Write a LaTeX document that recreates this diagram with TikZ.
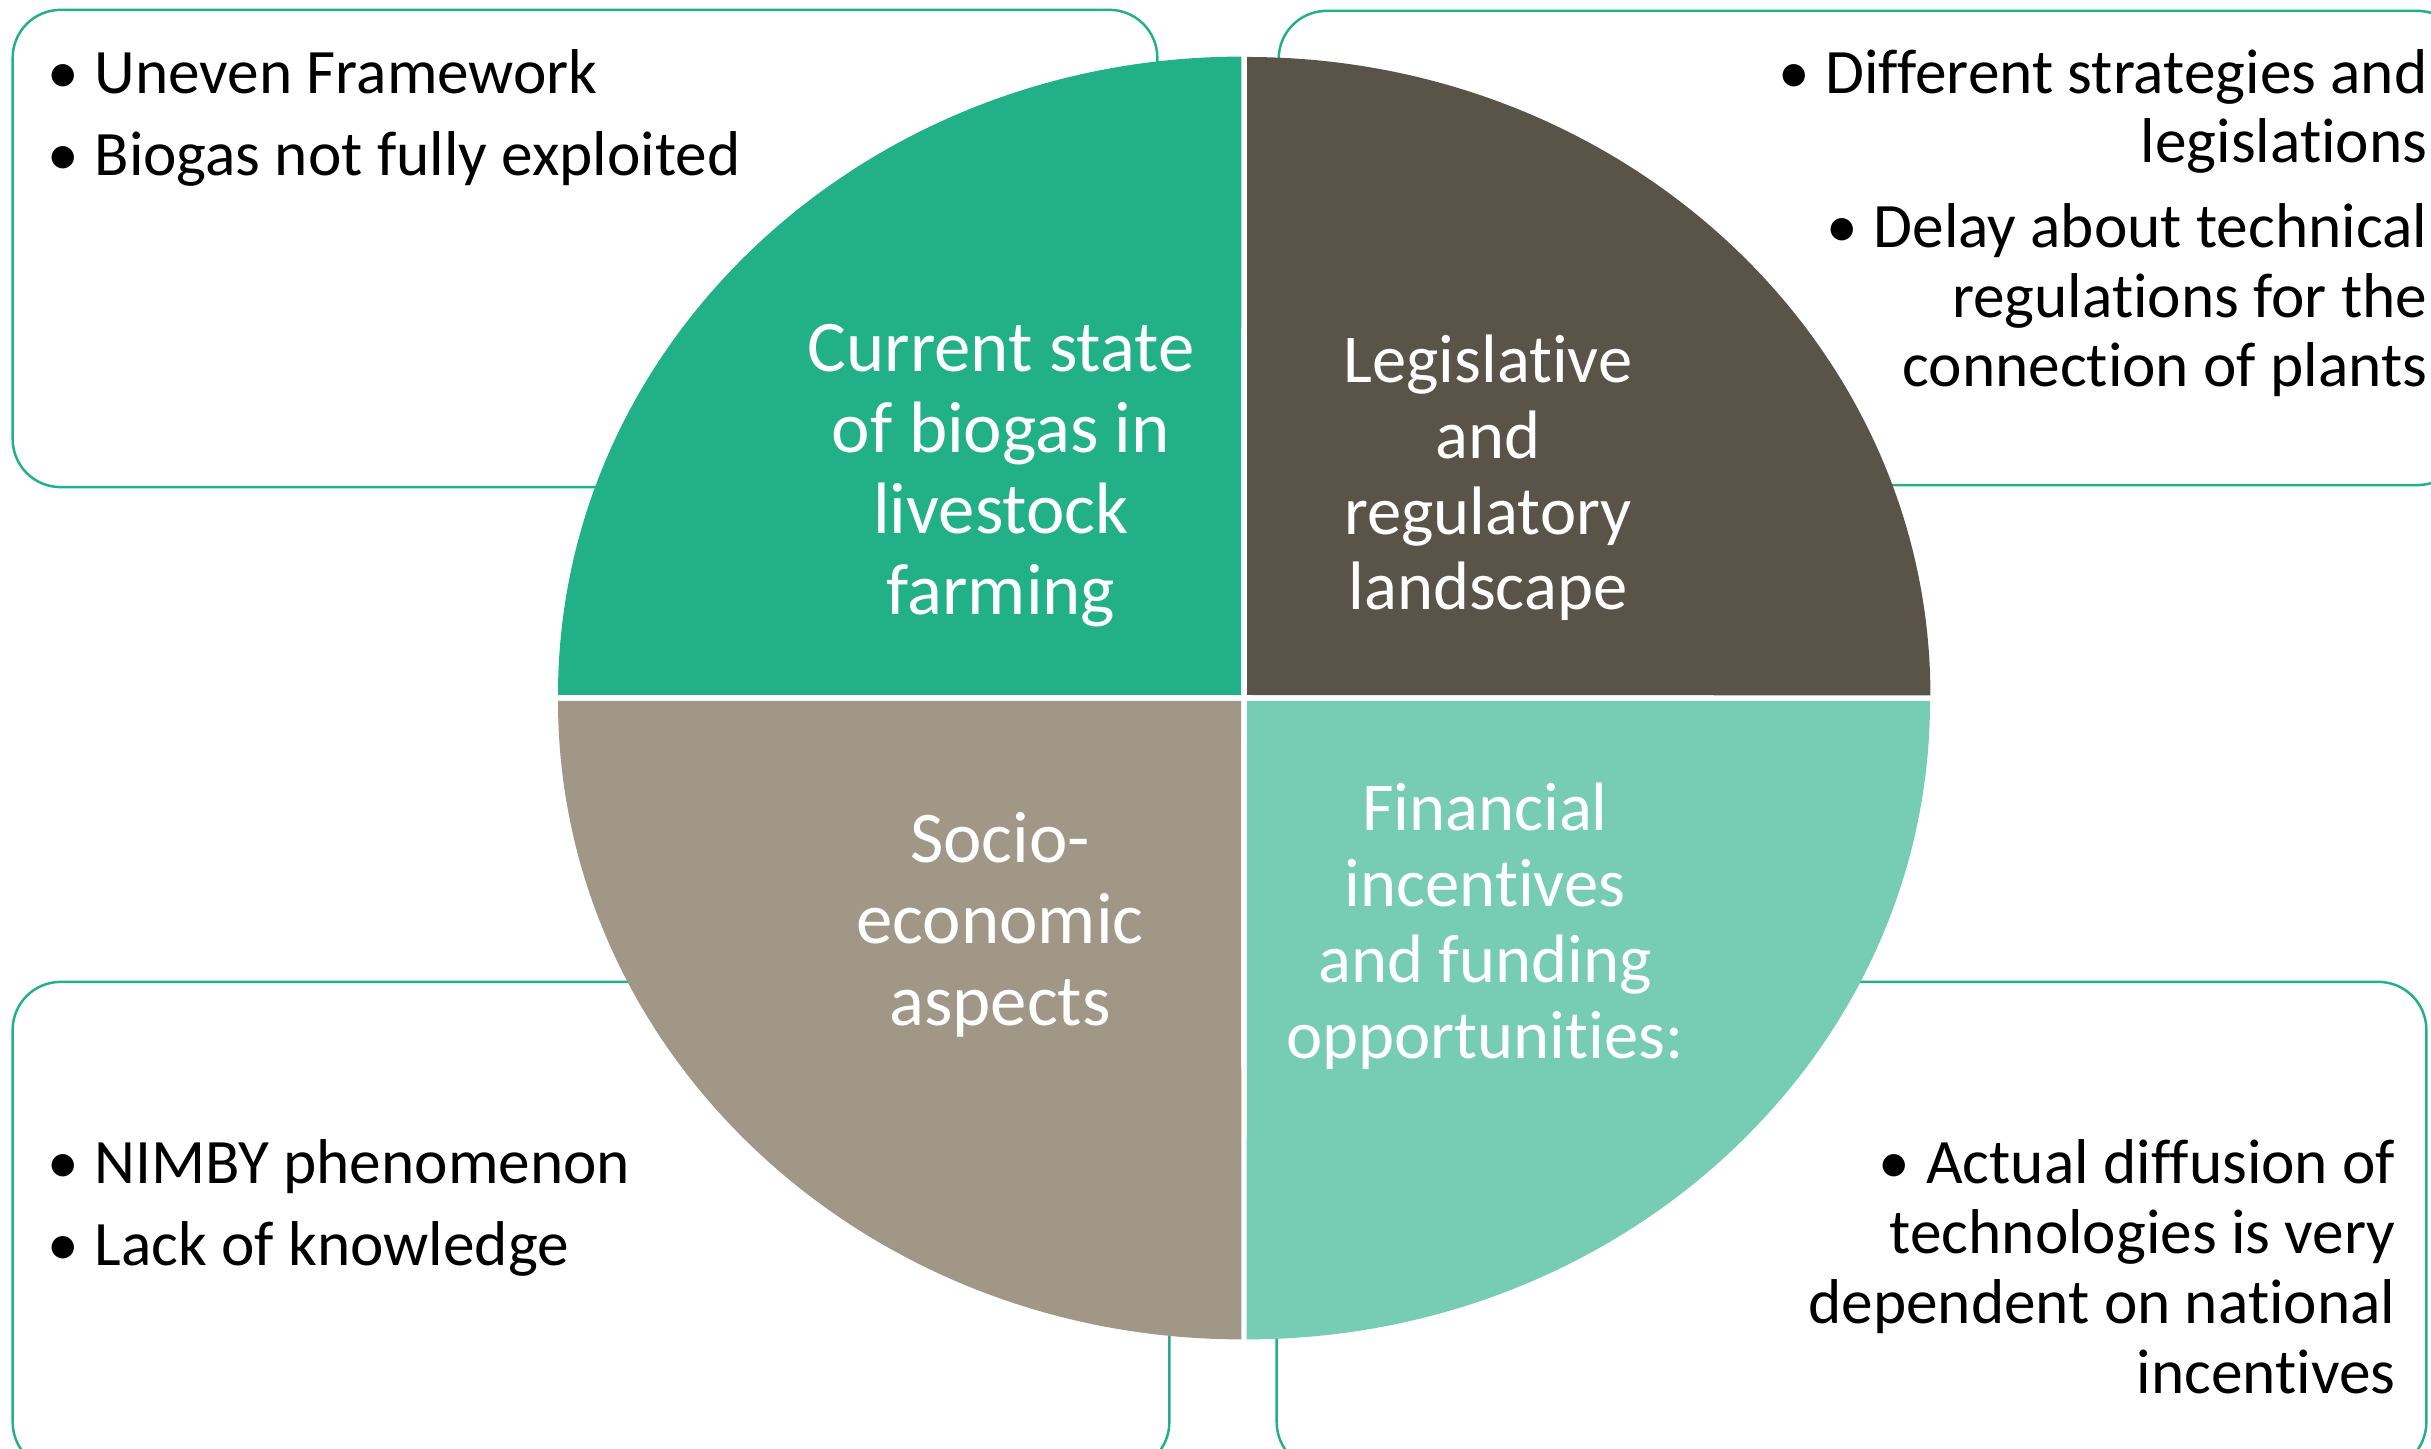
\documentclass[tikz,border=0pt]{standalone}
\usepackage{fontspec}
\setmainfont{Carlito}[Ligatures=NoCommon]
\usepackage{tikz}

\definecolor{qgreen}{RGB}{33,176,135}
\definecolor{qdark}{RGB}{90,83,72}
\definecolor{qgrey}{RGB}{160,151,135}
\definecolor{qteal}{RGB}{118,205,179}

\newcommand{\bul}{\textbullet\hspace{0.25em}}

\begin{document}
\begin{tikzpicture}[x=0.01cm,y=0.01cm,
                    box/.style={draw=qgreen,line width=0.7pt,rounded corners=0.48cm,
                                inner sep=0,outer sep=0},
                    pt/.style={inner sep=0,text=black,font=\fontsize{18}{19.9}\selectfont}]
  \tikzstyle{big}=[inner sep=0,align=center,text=white,font=\fontsize{20.7}{23.05}\selectfont]
  \tikzstyle{mid}=[inner sep=0,align=center,text=white,font=\fontsize{19.5}{21.6}\selectfont]
  \useasboundingbox (0,0) rectangle (2431,1448);

  % boxes behind the circle
  \node[box,minimum width=11.44cm,minimum height=4.77cm] (TLbox) at (585,1199.5) {};
  \node[box,minimum width=11.86cm,minimum height=4.74cm] (TRbox) at (1872,1200) {};
  \node[box,minimum width=11.56cm,minimum height=4.88cm] (BLbox) at (591,222) {};
  \node[box,minimum width=11.49cm,minimum height=4.88cm] (BRbox) at (1851.5,222) {};

  % quadrants
  \fill[qgreen] (1241,753) -- (558,753) arc[start angle=180,end angle=90,x radius=6.83cm,y radius=6.38cm] -- cycle;
  \fill[qdark]  (1247,753) -- (1247,1391) arc[start angle=90,end angle=0,x radius=6.83cm,y radius=6.38cm] -- cycle;
  \fill[qgrey]  (1241,747) -- (558,747) arc[start angle=180,end angle=270,x radius=6.83cm,y radius=6.38cm] -- cycle;
  \fill[qteal]  (1247,747) -- (1930,747) arc[start angle=0,end angle=-90,x radius=6.83cm,y radius=6.38cm] -- cycle;

  % base = last line
  \node[big,anchor=base] (cur) at (1001,833) {Current state\\of biogas in\\livestock\\farming};
  \node[mid,anchor=base] (leg) at (1488,838) {Legislative\\and\\regulatory\\landscape};
  \node[big,anchor=base] (soc) at (1000,423) {Socio-\\economic\\aspects};
  \node[mid,anchor=base] (fin) at (1485,390) {Financial\\incentives\\and funding\\opportunities:};

  % bullet texts
  \node[pt,anchor=base west] (u1) at (94,1354) {\llap{\bul}Uneven Framework};
  \node[pt,anchor=base west] (u2) at (94,1272) {\llap{\bul}Biogas not fully exploited};
  \node[pt,anchor=base east,align=right] (d1) at (2428,1285) {\bul Different strategies and\\legislations};
  \node[pt,anchor=base east,align=right] (d2) at (2428,1061) {\bul Delay about technical\\regulations for the\\connection of plants};
  \node[pt,anchor=base west] (n1) at (94,265) {\llap{\bul}NIMBY phenomenon};
  \node[pt,anchor=base west] (n2) at (94,183) {\llap{\bul}Lack of knowledge};
  \node[pt,anchor=base east,align=right] (a1) at (2396,55) {\bul Actual diffusion of\\technologies is very\\dependent on national\\incentives};
\end{tikzpicture}
\end{document}
